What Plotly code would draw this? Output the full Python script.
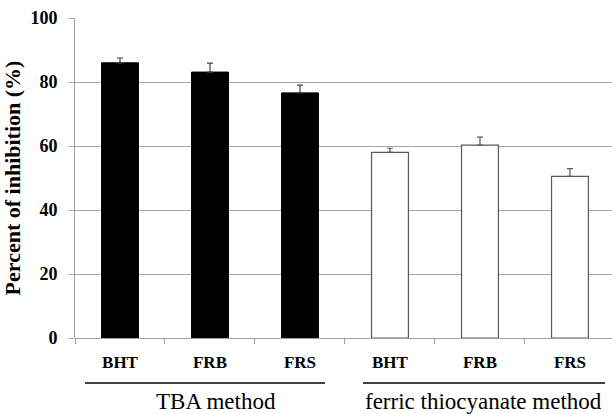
import plotly.graph_objects as go

categories = ["BHT", "FRB", "FRS", "BHT", "FRB", "FRS"]
groups = ["TBA method", "ferric thiocyanate method"]
tba_values = [86.0, 83.1, 76.6]
tba_errors = [1.5, 2.8, 2.4]
ftc_values = [58.0, 60.3, 50.5]
ftc_errors = [1.3, 2.5, 2.4]
y_ticks = [0, 20, 40, 60, 80, 100]

x_tba = [0, 1, 2]
x_ftc = [3, 4, 5]
font_family = "Liberation Serif, Times New Roman, serif"

fig = go.Figure()
fig.add_trace(go.Bar(
    x=x_tba, y=tba_values, width=0.41,
    marker=dict(color="black", line=dict(color="black", width=1)),
    error_y=dict(type="data", array=tba_errors, symmetric=False, arrayminus=[0, 0, 0],
                 color="#404040", thickness=1.2, width=3),
    showlegend=False,
))
fig.add_trace(go.Bar(
    x=x_ftc, y=ftc_values, width=0.41,
    marker=dict(color="white", line=dict(color="#595959", width=1.2)),
    error_y=dict(type="data", array=ftc_errors, symmetric=False, arrayminus=[0, 0, 0],
                 color="#595959", thickness=1.2, width=3),
    showlegend=False,
))

boundaries = [i - 0.5 for i in range(len(categories) + 1)]

fig.update_layout(
    width=612, height=414,
    margin=dict(l=75, r=0, t=18, b=76),
    paper_bgcolor="white", plot_bgcolor="white",
    font=dict(family=font_family, color="black"),
    bargap=0.59,
    xaxis=dict(
        range=[-0.5, 5.467],
        tickmode="array",
        tickvals=list(range(len(categories))),
        ticktext=["<b>%s</b>" % c for c in categories],
        ticks="", showgrid=False, zeroline=False,
        showline=False,
        tickfont=dict(size=17, family=font_family),
        ticklabelstandoff=12,
        minor=dict(tickmode="array", tickvals=boundaries, ticks="outside",
                   ticklen=5, tickcolor="#a0a0a0", tickwidth=1, showgrid=False),
    ),
    yaxis=dict(
        range=[0, 100],
        tickmode="array", tickvals=y_ticks,
        ticktext=["<b>%d</b>" % v for v in y_ticks],
        ticks="outside", ticklen=5, tickcolor="#a0a0a0", tickwidth=1,
        showgrid=True, gridcolor="#a6a6a6", gridwidth=1,
        showline=True, linecolor="#a0a0a0", linewidth=1,
        zeroline=True, zerolinecolor="#a0a0a0", zerolinewidth=1,
        tickfont=dict(size=18, family=font_family),
        ticklabelstandoff=8,
        title=dict(text="<b>Percent of inhibition (%)</b>",
                   font=dict(size=22, family=font_family), standoff=6),
    ),
)

# group underline spans (category units, relative to the group's first/last index)
line_spans = [(x_tba[0] - 0.389, x_tba[-1] + 0.278), (x_ftc[0] - 0.3, x_ftc[-1] + 0.389)]
label_x = [x_tba[1] + 0.067, x_ftc[1] + 0.044]
for g, (a, b), lx in zip(groups, line_spans, label_x):
    fig.add_shape(type="line", xref="x", yref="paper",
                  x0=a, x1=b, y0=-0.1406, y1=-0.1406,
                  line=dict(color="black", width=1.5))
    fig.add_annotation(text=g, xref="x", yref="paper", x=lx, y=-0.197,
                       showarrow=False, font=dict(size=23, family=font_family, color="black"),
                       xanchor="center", yanchor="middle")

fig.write_html("out.html")
